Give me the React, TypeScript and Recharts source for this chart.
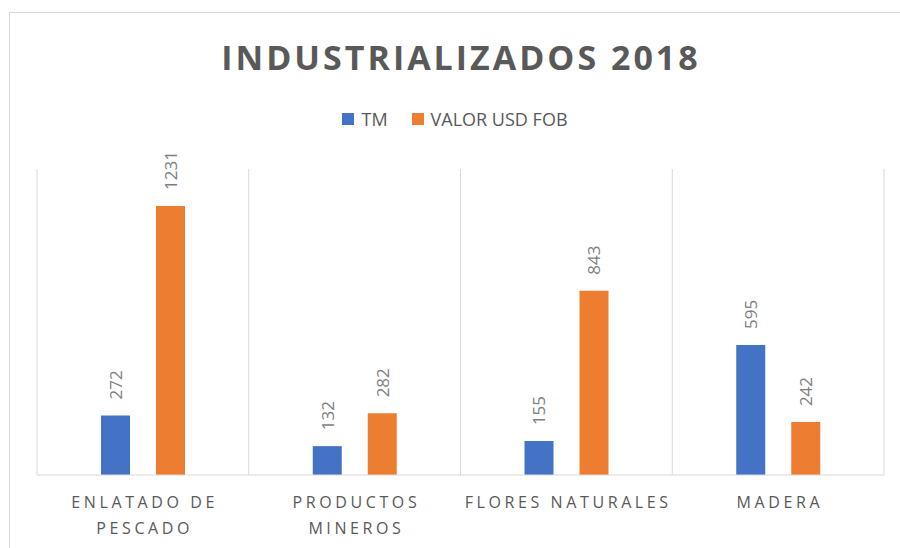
import { Bar, BarChart, CartesianGrid, LabelList, Legend, XAxis, YAxis } from 'recharts'

const categories = ['ENLATADO DE PESCADO', 'PRODUCTOS MINEROS', 'FLORES NATURALES', 'MADERA']
const tmValues = [272, 132, 155, 595]
const fobValues = [1231, 282, 843, 242]
const seriesNames = ['TM', 'VALOR USD FOB']
const seriesColors = ['#4472C4', '#ED7D31']

const data = categories.map((name, i) => ({ name, tm: tmValues[i], fob: fobValues[i] }))

const FONT = '"Open Sans", "Noto Sans", sans-serif'
const TEXT = '#595959'

function wrapWords(s: string, max: number) {
  const lines: string[] = []
  let cur = ''
  for (const w of s.split(' ')) {
    const next = cur ? cur + ' ' + w : w
    if (next.length > max && cur) {
      lines.push(cur)
      cur = w
    } else cur = next
  }
  if (cur) lines.push(cur)
  return lines
}

function CategoryTick({ x, y, payload }: any) {
  const lines = wrapWords(String(payload.value), 16)
  return (
    <text x={x} y={y} textAnchor="middle" fill={TEXT} fontSize={16} letterSpacing={3.6} fontFamily={FONT}>
      {lines.map((l, i) => (
        <tspan key={i} x={x + 1.8} dy={i === 0 ? 25 : 26}>{l}</tspan>
      ))}
    </text>
  )
}

function ValueLabel({ x, y, width, value }: any) {
  const cx = x + width / 2
  const ty = y - 16
  return (
    <text
      x={cx}
      y={ty}
      transform={`rotate(-90 ${cx} ${ty})`}
      textAnchor="start"
      dominantBaseline="central"
      fill="#7F7F7F"
      fontSize={17}
      fontFamily={FONT}
    >
      {value}
    </text>
  )
}

function LegendBox() {
  return (
    <div style={{ height: 30, display: 'flex', justifyContent: 'center', alignItems: 'center', paddingLeft: 10, fontFamily: FONT, fontSize: 18, color: TEXT }}>
      {seriesNames.map((n, i) => (
        <span key={n} style={{ display: 'flex', alignItems: 'center', marginRight: i === 0 ? 24 : 0 }}>
          <span style={{ width: 12, height: 12, background: seriesColors[i], marginRight: 7, display: 'inline-block' }} />
          {n}
        </span>
      ))}
    </div>
  )
}

export default function App() {
  const n = categories.length
  return (
    <div style={{ position: 'fixed', left: 0, top: 0, width: 900, height: 548, overflow: 'hidden', background: '#fff' }}>
      <div style={{ position: 'absolute', left: 9, top: 12, width: 1000, height: 700, border: '1px solid #D9D9D9' }} />
      <div
        style={{
          position: 'absolute', left: 11, top: 34, width: 900, textAlign: 'center',
          fontFamily: FONT, fontWeight: 700, fontSize: 34, lineHeight: '46px', letterSpacing: 3, color: TEXT,
        }}
      >
        INDUSTRIALIZADOS 2018
      </div>
      <div style={{ position: 'absolute', left: 0, top: 0 }}>
        <BarChart
          width={900}
          height={548}
          data={data}
          margin={{ top: 139, right: 16, bottom: 13, left: 37 }}
          barCategoryGap={64}
          barGap={26}
        >
          <CartesianGrid
            horizontal={false}
            stroke="#D9D9D9"
            verticalCoordinatesGenerator={({ offset }: any) =>
              Array.from({ length: n + 1 }, (_, i) => offset.left + (offset.width * i) / n)
            }
          />
          <XAxis
            dataKey="name"
            height={60}
            tickLine={false}
            axisLine={{ stroke: '#D9D9D9' }}
            interval={0}
            tick={<CategoryTick />}
          />
          <YAxis hide domain={[0, 1400]} />
          <Legend verticalAlign="top" wrapperStyle={{ top: 104, left: 0, width: 900 }} content={<LegendBox />} />
          <Bar dataKey="tm" name={seriesNames[0]} fill={seriesColors[0]} isAnimationActive={false}>
            <LabelList dataKey="tm" content={<ValueLabel />} />
          </Bar>
          <Bar dataKey="fob" name={seriesNames[1]} fill={seriesColors[1]} isAnimationActive={false}>
            <LabelList dataKey="fob" content={<ValueLabel />} />
          </Bar>
        </BarChart>
      </div>
    </div>
  )
}
